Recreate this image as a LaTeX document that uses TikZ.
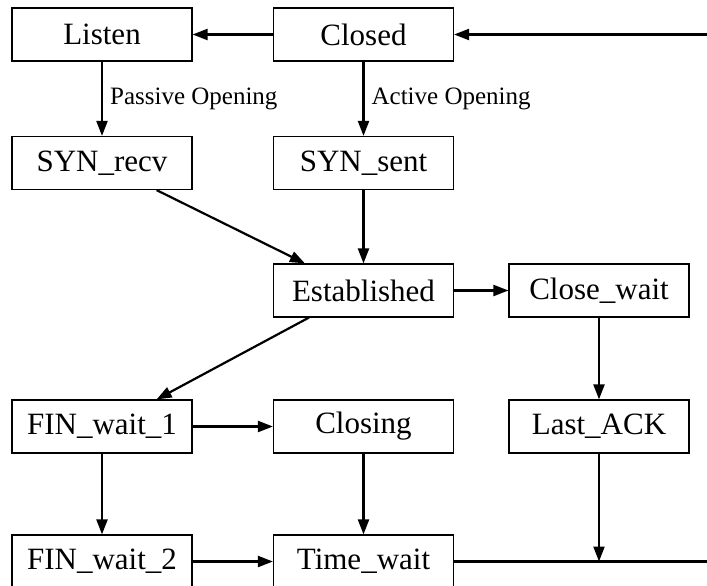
\documentclass[tikz,border=0pt]{standalone}
\usepackage{fontspec}
\setmainfont{Liberation Serif}
\usetikzlibrary{arrows.meta,positioning,calc}
\tikzset{
  state/.style={draw, line width=1.2pt, minimum width=180pt, minimum height=53pt,
    inner sep=0pt, font=\fontsize{31}{36}\selectfont},
  conn/.style={line width=2.2pt, -{Triangle[length=15pt,width=11pt]}},
  plain/.style={line width=2.2pt},
  lbl/.style={font=\fontsize{25}{30}\selectfont, inner sep=0pt, right=7pt}
}
\begin{document}
\begin{tikzpicture}[x=1pt,y=-1pt]
\useasboundingbox (0,0) rectangle (707,586);

% states, three columns by five rows
\node[state] (listen)   at (102,34.5)   {Listen};
\node[state] (closed)   at (363.5,34.5) {Closed};
\node[state] (synrecv)  at (102,163)    {SYN\_recv};
\node[state] (synsent)  at (363.5,163)  {SYN\_sent};
\node[state] (est)      at (363.5,290.5){Established};
\node[state] (closew)   at (599,290.5)  {Close\_wait};
\node[state] (finw1)    at (102,426.5)  {FIN\_wait\_1};
\node[state] (closing)  at (363.5,426.5){Closing};
\node[state] (lastack)  at (599,426.5)  {Last\_ACK};
\node[state] (finw2)    at (102,561.5)  {FIN\_wait\_2};
\node[state] (timew)    at (363.5,561.5){Time\_wait};

% return path from Time_wait back to Closed along the right side
\coordinate (retB) at (725,561.5);
\coordinate (retT) at (725,34.5);
\coordinate (join) at (lastack |- timew);

% opening
\draw[conn] (closed) -- (listen);
\draw[conn] (listen) -- node[lbl] {Passive Opening} (synrecv);
\draw[conn] (closed) -- node[lbl] {Active Opening} (synsent);
\draw[conn] ([xshift=-36pt]synrecv.south east) -- ([xshift=32pt]est.north west);
\draw[conn] (synsent) -- (est);

% closing
\draw[conn] (est) -- (closew);
\draw[conn] (closew) -- (lastack);
\draw[conn] ([xshift=36pt]est.south west) -- ([xshift=-36pt]finw1.north east);
\draw[conn] (finw1) -- (closing);
\draw[conn] (finw1) -- (finw2);
\draw[conn] (closing) -- (timew);
\draw[conn] (finw2) -- (timew);
\draw[conn] (lastack) -- (join);
\draw[plain] (timew.east) -- (retB) -- (retT);
\draw[conn] (retT) -- (closed.east);
\end{tikzpicture}
\end{document}
